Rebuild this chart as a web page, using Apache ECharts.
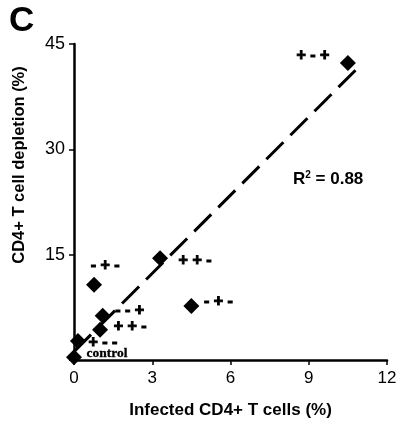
<!DOCTYPE html>
<html><head><meta charset="utf-8">
<script src="https://cdn.jsdelivr.net/npm/echarts@6/dist/echarts.min.js"></script>
<style>html,body{margin:0;padding:0;background:#fff}#c{width:405px;height:425px}</style>
</head><body><div id="c"></div>
<script>
var xValues = [10.5, 3.3, 0.77, 4.5, 1.1, 1.0, 0.15, 0];
var yValues = [42.3, 14.5, 10.7, 7.7, 6.3, 4.3, 2.7, 0.4];
var pointLabels = ['+ - +', '+ + -', '- + -', '- + -', '- - +', '+ + -', '+ - -', 'control'];
var xTicks = [0, 3, 6, 9, 12];
var yTicks = [15, 30, 45];
var trendX = [0, 10.8];
var trendY = [1.2, 41.3];

var labelOffsets = [[-35,-7],[35,2],[11,-19],[27,-4],[27,-5],[30,-3],[25,2],[33,-4]];
var chart = echarts.init(document.getElementById('c'));
var pts = xValues.map(function(x,i){
  var isCtrl = pointLabels[i] === 'control';
  return {
    value:[x, yValues[i]],
    label:{show:true, formatter:pointLabels[i], position:'inside', offset:labelOffsets[i],
      color:'#000', fontWeight:'bold',
      fontFamily: isCtrl ? 'Liberation Serif' : 'Liberation Sans',
      fontSize: isCtrl ? 13.5 : 16,
      textBorderColor:'#000', textBorderWidth: isCtrl ? 0.3 : 1}
  };
});
chart.setOption({
  animation:false,
  grid:{left:74, right:18, top:44, bottom:65, containLabel:false},
  xAxis:{type:'value', min:0, max:12, interval:3,
    name:'Infected CD4+ T cells (%)', nameLocation:'middle', nameGap:42,
    nameTextStyle:{fontFamily:'Liberation Sans', fontWeight:'bold', fontSize:17, color:'#000'},
    axisLine:{show:true, onZero:false, lineStyle:{color:'#000', width:2.5}},
    axisTick:{show:true, inside:false, length:5, lineStyle:{color:'#000', width:1.5}},
    axisLabel:{fontFamily:'Liberation Sans', fontSize:17, color:'#000', margin:10,
      formatter:function(v){return xTicks.indexOf(v)>=0 ? String(v) : '';}},
    splitLine:{show:false}},
  yAxis:{type:'value', min:0, max:45, interval:15,
    axisLine:{show:true, onZero:false, lineStyle:{color:'#000', width:2.5}},
    axisTick:{show:true, inside:false, length:5, lineStyle:{color:'#000', width:1.5}},
    axisLabel:{fontFamily:'Liberation Sans', fontSize:18, color:'#000', margin:9,
      formatter:function(v){return yTicks.indexOf(v)>=0 ? String(v) : '';}},
    splitLine:{show:false}},
  series:[
    {type:'line', data:[[trendX[0],trendY[0]],[trendX[1],trendY[1]]], symbol:'none',
      lineStyle:{color:'#000', width:3, type:[24,10]}, z:3, silent:true},
    {type:'scatter', data:pts, symbol:'diamond', symbolSize:16,
      itemStyle:{color:'#000', opacity:1}, z:4}
  ],
  graphic:[
    {type:'text', left:9, top:4, style:{text:'C', font:'bold 35px "Liberation Sans"', fill:'#000'}},
    {type:'text', x:19, y:165, rotation:Math.PI/2,
      style:{text:'CD4+ T cell depletion (%)', font:'bold 16.5px "Liberation Sans"', fill:'#000', textAlign:'center', textVerticalAlign:'middle'}},
    {type:'text', left:293, top:170, style:{text:'{a|R}{s|2}{a| = 0.88}',
      rich:{a:{font:'bold 17px "Liberation Sans"', fill:'#000'}, s:{font:'bold 10px "Liberation Sans"', fill:'#000', verticalAlign:'top', padding:[0,0,8,0]}}}}
  ]
});
</script></body></html>
